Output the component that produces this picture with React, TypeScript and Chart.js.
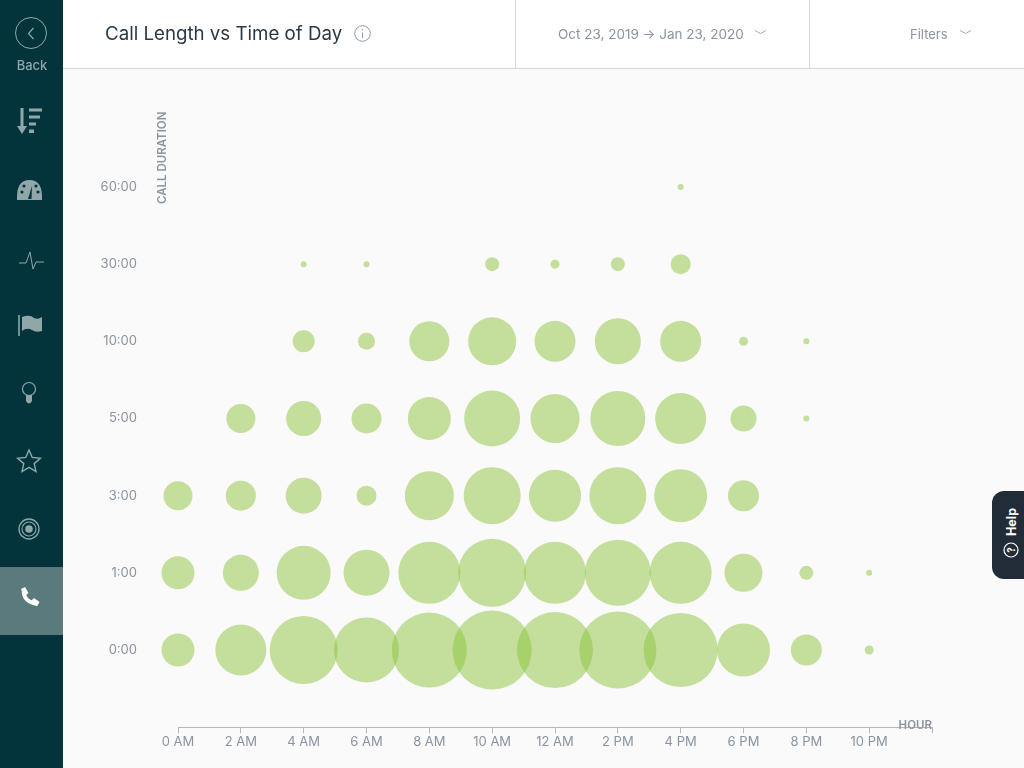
import React, { useEffect, useRef } from 'react';
import { Chart, registerables } from 'chart.js';

Chart.register(...registerables);

const FONT = 'Inter, "Noto Sans", sans-serif';
const ICON = '#8fa7a9';

// bubble radius, one list per duration row, null = no call
const hours = [0, 2, 4, 6, 8, 10, 12, 14, 16, 18, 20, 22];
const hourLabels = ['0 AM', '2 AM', '4 AM', '6 AM', '8 AM', '10 AM', '12 AM', '2 PM', '4 PM', '6 PM', '8 PM', '10 PM'];
const durationLabels = ['0:00', '1:00', '3:00', '5:00', '10:00', '30:00', '60:00'];

const row0 = [16.5, 25.5, 34, 32.5, 37.5, 39.5, 38, 38.5, 37, 26.5, 15.5, 4.5];
const row1 = [16.5, 18, 27, 23, 31, 34, 31, 33, 31, 19, 7, 3];
const row3 = [14.5, 15, 18, 10, 24.5, 28.5, 26, 28.5, 26.5, 15.5, null, null];
const row5 = [null, 14.5, 17.5, 15, 21.5, 28, 24.5, 27.5, 25.5, 13, 3, null];
const row10 = [null, null, 11, 8.5, 20, 24, 20.5, 23, 20.5, 4.5, 3, null];
const row30 = [null, null, 3, 3, null, 7, 4.5, 7, 10, null, null, null];
const row60 = [null, null, null, null, null, null, null, null, 3, null, null, null];

const rows = [row0, row1, row3, row5, row10, row30, row60];

const BubbleChart: React.FC = () => {
  const chartRef = useRef<HTMLCanvasElement>(null);

  useEffect(() => {
    if (!chartRef.current) return;
    const points: { x: number; y: number; r: number }[] = [];
    rows.forEach((row, y) => {
      row.forEach((r, i) => {
        if (r !== null) points.push({ x: hours[i], y, r });
      });
    });

    const chart = new Chart(chartRef.current, {
      type: 'bubble',
      data: {
        datasets: [
          {
            data: points,
            backgroundColor: 'rgba(140, 195, 60, 0.5)',
            borderWidth: 0,
            hoverBorderWidth: 0,
            clip: false,
          },
        ],
      },
      options: {
        animation: false,
        responsive: true,
        maintainAspectRatio: false,
        // negative on purpose: the layout keeps extra room that the reference does not have
        layout: { autoPadding: false, padding: { top: -18, right: 92, left: 0, bottom: -13 } },
        plugins: { legend: { display: false }, tooltip: { enabled: false } },
        scales: {
          x: {
            type: 'linear',
            min: 0,
            max: 24,
            afterFit: (scale: any) => {
              scale.height = 28;
            },
            border: { color: '#b4b8bc', width: 1 },
            grid: { drawOnChartArea: false, drawTicks: true, tickLength: 6, color: '#b4b8bc' },
            ticks: {
              stepSize: 2,
              maxRotation: 0,
              autoSkip: false,
              padding: 1,
              color: '#8a94a0',
              font: { family: FONT, size: 13 },
              callback: (value: any) => hourLabels[hours.indexOf(Number(value))] ?? '',
            },
          },
          y: {
            type: 'linear',
            min: -1,
            max: 7,
            afterFit: (scale: any) => {
              scale.width = 115;
            },
            border: { display: false },
            grid: { display: false },
            ticks: {
              stepSize: 1,
              padding: 33,
              color: '#8a94a0',
              font: { family: FONT, size: 13 },
              callback: (value: any) => durationLabels[Number(value)] ?? '',
            },
          },
        },
      },
    });

    return () => chart.destroy();
  }, []);

  return (
    <div style={{ position: 'absolute', left: 63, top: 69, width: 961, height: 699 }}>
      <canvas ref={chartRef}></canvas>
    </div>
  );
};

const Chevron: React.FC<{ x: number }> = ({ x }) => (
  <svg style={{ position: 'absolute', left: x, top: 29, width: 13, height: 7 }} viewBox="0 0 13 7">
    <path d="M1 1.5 L6.5 4.5 L12 1.5" fill="none" stroke="#a3acb6" strokeWidth="1" />
  </svg>
);

const Sidebar: React.FC = () => (
  <div style={{ position: 'absolute', left: 0, top: 0, width: 63, height: 768, background: '#03343c' }}>
    <div style={{ position: 'absolute', left: 0, top: 567, width: 63, height: 68, background: '#5b7a7d' }} />
    <svg style={{ position: 'absolute', left: 0, top: 0 }} width="63" height="768" viewBox="0 0 63 768">
      {/* back */}
      <circle cx="31" cy="33" r="15.5" fill="none" stroke={ICON} strokeWidth="1" />
      <path d="M33.5 28 L28.5 33.5 L33.5 39" fill="none" stroke={ICON} strokeWidth="1.2" />
      {/* sort */}
      <path d="M22 108 V130" stroke={ICON} strokeWidth="3" />
      <path d="M17 126 L22 134 L27 126 Z" fill={ICON} />
      <rect x="29" y="108.5" width="13" height="3" fill={ICON} />
      <rect x="29" y="115.5" width="11" height="3" fill={ICON} />
      <rect x="29" y="122.5" width="7" height="3" fill={ICON} />
      <rect x="29" y="129.5" width="5" height="3.5" fill={ICON} />
      {/* gauge */}
      <path d="M17 200 Q16 180 29.5 180 Q43 180 42 200 Z" fill={ICON} />
      <circle cx="22" cy="192" r="1.6" fill="#03343c" />
      <circle cx="24" cy="186" r="1.6" fill="#03343c" />
      <circle cx="36" cy="186" r="1.6" fill="#03343c" />
      <circle cx="38" cy="192" r="1.6" fill="#03343c" />
      <path d="M28 199 L32 186 L31.5 199 Z" fill="#03343c" />
      {/* pulse */}
      <path d="M19 263 H26 L30 252 L33 269 L36 262 H44" fill="none" stroke={ICON} strokeWidth="1" />
      {/* flag */}
      <path d="M19 315 V336" stroke={ICON} strokeWidth="1.6" />
      <path d="M22 317 Q30 314 34 318 Q38 320 42 317 V331 Q36 333 32 330 Q27 327 22 331 Z" fill={ICON} />
      {/* bulb */}
      <circle cx="29" cy="389" r="6.5" fill="none" stroke={ICON} strokeWidth="1.2" />
      <path d="M26 395 H32 V401 Q29 406 26 401 Z" fill={ICON} />
      {/* star */}
      <path
        d="M29 450 L32.2 457.4 L40.4 458.2 L34.2 463.6 L36 471.6 L29 467.4 L22 471.6 L23.8 463.6 L17.6 458.2 L25.8 457.4 Z"
        fill="none"
        stroke={ICON}
        strokeWidth="1.4"
      />
      {/* target */}
      <circle cx="29" cy="529" r="10" fill="none" stroke={ICON} strokeWidth="1.3" />
      <circle cx="29" cy="529" r="7" fill="none" stroke={ICON} strokeWidth="1.1" />
      <circle cx="29" cy="529" r="3.8" fill={ICON} />
      {/* phone */}
      <path d="M23.5 590 Q23 601 36 604" fill="none" stroke="#fff" strokeWidth="3.6" />
      <path d="M21 589 L25 587 L28.5 593 L25 596 Z" fill="#fff" />
      <path d="M31 601 L34 598 L39.5 602 L37 606.5 Z" fill="#fff" />
    </svg>
    <div
      style={{
        position: 'absolute',
        left: 0,
        top: 57,
        width: 64,
        textAlign: 'center',
        font: `500 13px ${FONT}`,
        color: ICON,
      }}
    >
      Back
    </div>
  </div>
);

const Header: React.FC = () => (
  <div
    style={{
      position: 'absolute',
      left: 63,
      top: 0,
      width: 961,
      height: 68,
      background: '#fff',
      borderBottom: '1px solid #d4d6d8',
    }}
  >
    <div style={{ position: 'absolute', left: 452, top: 0, width: 1, height: 68, background: '#d8dadb' }} />
    <div style={{ position: 'absolute', left: 746, top: 0, width: 1, height: 68, background: '#d8dadb' }} />
    <div style={{ position: 'absolute', left: 42, top: 22, font: `400 18.7px ${FONT}`, color: '#2a3947', whiteSpace: 'nowrap' }}>
      Call Length vs Time of Day
    </div>
    <svg style={{ position: 'absolute', left: 290, top: 24 }} width="19" height="19" viewBox="0 0 19 19">
      <circle cx="9.5" cy="9.5" r="7.8" fill="none" stroke="#8d9aa8" strokeWidth="1" />
      <path d="M9.5 8.5 V14" stroke="#8d9aa8" strokeWidth="1" />
      <circle cx="9.5" cy="5.8" r="0.8" fill="#8d9aa8" />
    </svg>
    <div style={{ position: 'absolute', left: 495, top: 26, font: `400 13.5px ${FONT}`, color: '#8a94a0', whiteSpace: 'nowrap' }}>
      Oct 23, 2019 → Jan 23, 2020
    </div>
    <Chevron x={691} />
    <div style={{ position: 'absolute', left: 847, top: 26, font: `400 13px ${FONT}`, color: '#8a94a0', whiteSpace: 'nowrap' }}>
      Filters
    </div>
    <Chevron x={896} />
  </div>
);

const HelpTab: React.FC = () => (
  <div
    style={{
      position: 'absolute',
      left: 992,
      top: 491,
      width: 32,
      height: 88,
      background: '#222b38',
      borderRadius: '12px 0 0 12px',
    }}
  >
    <div
      style={{
        position: 'absolute',
        left: 19,
        top: 31,
        transform: 'translate(-50%, -50%) rotate(-90deg)',
        font: `700 12.5px ${FONT}`,
        color: '#fff',
      }}
    >
      Help
    </div>
    <svg style={{ position: 'absolute', left: 10, top: 50 }} width="18" height="18" viewBox="0 0 18 18">
      <circle cx="9" cy="9" r="7" fill="none" stroke="#fff" strokeWidth="1.2" />
      <text x="9" y="12.5" textAnchor="middle" fontSize="10" fontWeight="700" fill="#fff" fontFamily={FONT} transform="rotate(-90 9 9)">
        ?
      </text>
    </svg>
  </div>
);

export default function App() {
  return (
    <div style={{ position: 'fixed', left: 0, top: 0, width: 1024, height: 768, overflow: 'hidden', background: '#fafafa' }}>
      <BubbleChart />
      <Sidebar />
      <Header />
      <HelpTab />
      <div
        style={{
          position: 'absolute',
          left: 162,
          top: 204,
          transformOrigin: '0 0',
          transform: 'rotate(-90deg) translateY(-50%)',
          font: `600 11.5px ${FONT}`,
          color: '#8a94a0',
          whiteSpace: 'nowrap',
        }}
      >
        CALL DURATION
      </div>
      <div style={{ position: 'absolute', right: 92, top: 718, font: `600 11.5px ${FONT}`, color: '#8a94a0' }}>HOUR</div>
    </div>
  );
}
